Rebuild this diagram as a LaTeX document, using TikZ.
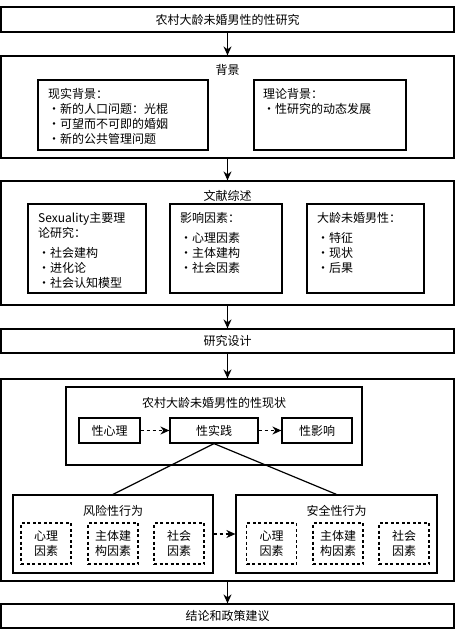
\documentclass[tikz,border=0pt]{standalone}
\usepackage{fontspec}
\setmainfont{Noto Sans CJK SC}
\usetikzlibrary{arrows.meta, positioning}

\begin{document}
\begin{tikzpicture}[
x=1pt, y=-1pt,
font=\fontsize{12}{15}\selectfont,
frame/.style={draw,
rectangle,
line width=1.2pt,
inner sep=0pt},
wide/.style={frame,
minimum width=453pt},
dbox/.style={frame,
dash pattern=on 3pt off 2.5pt,
minimum width=50pt,
minimum height=41pt,
align=center},
txt/.style={inner sep=0pt,
align=left,
anchor=north west},
arrow/.style={-{Stealth[length=9pt, width=8pt]}, line width=1.2pt},
darrow/.style={arrow, dash pattern=on 3pt off 3pt}
]
\useasboundingbox (0,0) rectangle (455,634);

\node[wide, minimum height=25pt] (title) at (227.5,19.5) {农村大龄未婚男性的性研究};

\node[wide, minimum height=102pt] (bg) at (227.5,107) {};
\node (bgtitle) at (227.5,70) {背景};
\node[frame, minimum width=170pt, minimum height=70pt] (bgreal) at (123,115) {};
\node[frame, minimum width=152pt, minimum height=70pt] (bgtheory) at (330,115) {};
\node[txt] (bgrealtxt) at (48,88) {现实背景：\\・新的人口问题：光棍\\・可望而不可即的婚姻\\・新的公共管理问题};
\node[txt] (bgtheorytxt) at (263,88) {理论背景：\\・性研究的动态发展};

\node[wide, minimum height=124pt] (lit) at (227.5,243) {};
\node (littitle) at (227.5,196) {文献综述};
\node[frame, minimum width=118pt, minimum height=89pt] (litsex) at (87,248.5) {};
\node[frame, minimum width=112pt, minimum height=89pt] (litfac) at (226,248.5) {};
\node[frame, minimum width=117pt, minimum height=89pt] (litmen) at (365.5,248.5) {};
\node[txt] (litsextxt) at (38,212) {Sexuality主要理\\论研究：\\[5pt]・社会建构\\・进化论\\・社会认知模型};
\node[txt] (litfactxt) at (180,212) {影响因素：\\[5pt]・心理因素\\・主体建构\\・社会因素};
\node[txt] (litmentxt) at (317,212) {大龄未婚男性：\\[5pt]・特征\\・现状\\・后果};

\node[wide, minimum height=24pt] (design) at (227.5,341) {研究设计};

\node[wide, minimum height=202pt] (status) at (227.5,480) {};
\node[frame, minimum width=296pt, minimum height=78pt] (now) at (214,426) {};
\node (nowtitle) at (214,403) {农村大龄未婚男性的性现状};
\node[frame, minimum width=61pt, minimum height=25pt] (psy) at (109.5,430.5) {性心理};
\node[frame, minimum width=88pt, minimum height=25pt] (prac) at (214,430.5) {性实践};
\node[frame, minimum width=70pt, minimum height=25pt] (eff) at (317,430.5) {性影响};

\node[frame, minimum width=200pt, minimum height=78pt] (risk) at (113,534) {};
\node[frame, minimum width=201pt, minimum height=78pt] (safe) at (336.5,534) {};
\node (risktitle) at (113,511) {风险性行为};
\node (safetitle) at (336.5,511) {安全性行为};
\node[dbox] (riskpsy) at (46,543.5) {心理\\因素};
\node[dbox] (risksub) at (113,543.5) {主体建\\构因素};
\node[dbox] (risksoc) at (179,543.5) {社会\\因素};
\node[dbox] (safepsy) at (271.5,543.5) {心理\\因素};
\node[dbox] (safesub) at (338,543.5) {主体建\\构因素};
\node[dbox] (safesoc) at (404,543.5) {社会\\因素};

\node[wide, minimum height=24pt] (concl) at (227.5,616) {结论和政策建议};

\draw[arrow] (title) -- (bg);
\draw[arrow] (bg) -- (lit);
\draw[arrow] (lit) -- (design);
\draw[arrow] (design) -- (status);
\draw[arrow] (status) -- (concl);
\draw[darrow] (psy) -- (prac);
\draw[darrow] (prac) -- (eff);
\draw[line width=1.2pt] (prac.south) -- (risk.north);
\draw[line width=1.2pt] (prac.south) -- (safe.north);
\draw[darrow] (risk) -- (safe);

\end{tikzpicture}
\end{document}
